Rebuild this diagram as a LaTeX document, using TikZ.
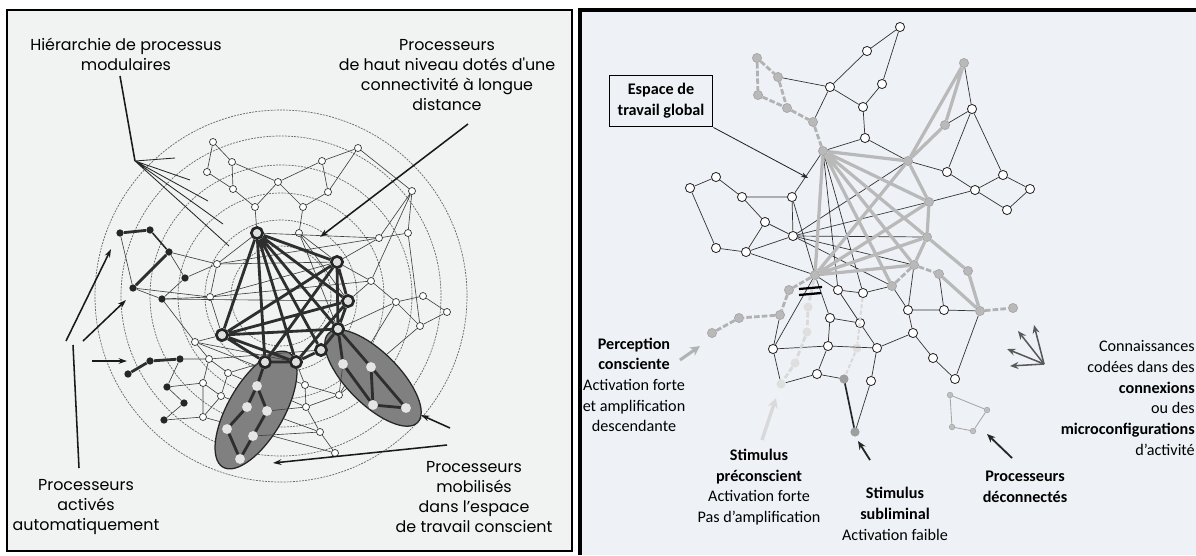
\documentclass[tikz,border=0pt]{standalone}
\usepackage{fontspec}
\newfontfamily\gothfont{Poppins}
\newfontfamily\calfont{Carlito}
\usetikzlibrary{arrows.meta,shapes.geometric}

\definecolor{leftbg}{HTML}{F1F2F2}
\definecolor{rightbg}{HTML}{EEF2F6}

\tikzset{
  pw/.style={circle,draw=black!80,fill=white,line width=0.5pt,inner sep=0pt,minimum size=5pt},
  pb/.style={circle,fill=black!85,inner sep=0pt,minimum size=5.2pt},
  ph/.style={circle,draw=black!85,fill=gray!25,line width=1.9pt,inner sep=0pt,minimum size=8pt},
  pg/.style={circle,fill=gray!20,inner sep=0pt,minimum size=7pt},
  rw/.style={circle,draw=black!85,fill=white,line width=0.6pt,inner sep=0pt,minimum size=6.5pt},
  rg/.style={circle,draw=gray!70,fill=gray!55,line width=0.5pt,inner sep=0pt,minimum size=6.5pt},
  rl/.style={circle,fill=gray!25,inner sep=0pt,minimum size=6.5pt},
  rd/.style={circle,draw=gray!80,fill=gray!75,inner sep=0pt,minimum size=6pt},
  rs/.style={circle,draw=gray!70,fill=gray!50,inner sep=0pt,minimum size=4pt},
  ring/.style={black!60,line width=0.5pt,dash pattern=on 1.4pt off 0.8pt},
  lwire/.style={black!75,line width=0.45pt},
  lbold/.style={black!82,line width=2pt},
  ellfill/.style={draw=black!85,fill=black!50,line width=0.9pt},
  rwire/.style={black!80,line width=0.5pt},
  rgthick/.style={gray!55,line width=2.3pt},
  rdash/.style={gray!60,line width=2pt,dash pattern=on 4pt off 1.5pt},
  rlight/.style={gray!30,line width=2pt,dash pattern=on 4pt off 1.5pt},
  pointer/.style={black!90,line width=1.1pt},
  lbl/.style={font=\gothfont\fontsize{11.3}{14.3}\selectfont,align=center,inner sep=0pt},
  rlbl/.style={font=\calfont\fontsize{11.5}{14.7}\selectfont,align=center,inner sep=0pt}
}

\begin{document}
\begin{tikzpicture}[x=0.025cm,y=-0.025cm]
  \useasboundingbox (0,0) rectangle (1196,555);
  \fill[white] (0,0) rectangle (1196,555);
  \draw[fill=leftbg,line width=0.9pt] (7,10) rectangle (572,551);
  \fill[rightbg] (580,10) rectangle (1196,555);
  \draw[line width=2.2pt] (580,555) -- (580,10) -- (1196,10);

  % left panel: concentric levels
  \draw[ring] (281,296) circle [radius=186];
  \draw[ring] (281,296) circle [radius=160];
  \draw[ring] (281,296) circle [radius=131];
  \draw[ring] (281,296) circle [radius=103];
  \draw[ring] (281,296) circle [radius=76];
  \draw[ring] (281,296) circle [radius=50];

  \node[pw] (w1)  at (213,142) {};
  \node[pw] (w2)  at (232,162) {};
  \node[pw] (w3)  at (207,172) {};
  \node[pw] (w4)  at (233,189) {};
  \node[pw] (w5)  at (278,182) {};
  \node[pw] (w6)  at (322,161) {};
  \node[pw] (w7)  at (358,148) {};
  \node[pw] (w8)  at (328,192) {};
  \node[pw] (w9)  at (255,207) {};
  \node[pw] (w10) at (303,207) {};
  \node[pw] (w11) at (299,233) {};
  \node[pw] (r1)  at (412,191) {};
  \node[pw] (r2)  at (408,233) {};
  \node[pw] (r3)  at (379,238) {};
  \node[pw] (r4)  at (371,281) {};
  \node[pw] (r5)  at (423,296) {};
  \node[pw] (r6)  at (396,302) {};
  \node[pw] (r7)  at (447,312) {};
  \node[pw] (r8)  at (420,326) {};
  \node[pw] (l1)  at (217,264) {};
  \node[pw] (l2)  at (210,297) {};
  \node[pw] (b1)  at (195,342) {};
  \node[pw] (b2)  at (209,359) {};
  \node[pw] (b3)  at (228,373) {};
  \node[pw] (b4)  at (203,383) {};
  \node[pw] (b5)  at (221,396) {};
  \node[pw] (b6)  at (203,417) {};
  \node[pw] (s2)  at (305,385) {};
  \node[pw] (s3)  at (339,395) {};
  \node[pw] (s4)  at (306,407) {};
  \node[pw] (s5)  at (320,432) {};
  \node[pw] (s6)  at (335,453) {};

  \node[pb] (k1)  at (120,233) {};
  \node[pb] (k2)  at (150,230) {};
  \node[pb] (k3)  at (169,252) {};
  \node[pb] (k4)  at (185,278) {};
  \node[pb] (k5)  at (133,288) {};
  \node[pb] (k6)  at (162,299) {};
  \node[pb] (k7)  at (150,361) {};
  \node[pb] (k8)  at (180,359) {};
  \node[pb] (k9)  at (128,374) {};
  \node[pb] (k10) at (167,387) {};
  \node[pb] (k11) at (184,403) {};
  \node[pb] (k12) at (164,420) {};

  \draw[lwire] (w1) -- (w2) (w1) -- (w3) (w2) -- (w4) (w3) -- (w4) (w2) -- (w5)
        (w4) -- (w9) (w5) -- (w9) (w5) -- (w6) (w6) -- (w7) (w6) -- (w8)
        (w7) -- (w8) (w8) -- (w10) (w5) -- (w10) (w10) -- (w11) (w7) -- (r1);
  \draw[lwire] (r1) -- (r2) (r1) -- (r3) (r1) -- (r4) (r2) -- (r3) (r4) -- (r6)
        (r6) -- (r5) (r5) -- (r7) (r7) -- (r8) (r6) -- (r8) (r2) -- (r8);
  \draw[lwire] (l1) -- (l2) (l1) -- (k4) (k3) -- (l1) (k6) -- (l2) (k5) -- (l2)
        (l2) -- (r4) (l1) -- (r3) (k1) -- (k5) (k3) -- (k4) (k4) -- (k6) (k5) -- (k6);
  \draw[lwire] (b1) -- (b2) (b2) -- (b3) (b2) -- (b4) (b3) -- (b5) (b4) -- (b5)
        (b4) -- (b6) (b5) -- (b6) (k8) -- (b2) (k8) -- (k10) (k10) -- (k11)
        (k11) -- (k12) (k12) -- (b6) (k10) -- (b4) (b1) -- (s2) (b3) -- (s4)
        (b5) -- (s5) (b6) -- (s6) (k6) -- (b1);
  \draw[lwire] (s2) -- (s3) (s2) -- (s4) (s3) -- (s4) (s4) -- (s5) (s5) -- (s6)
        (s3) -- (r8) (s3) -- (r6);

  \draw[ellfill,rotate around={-30:(256,410)}] (256,410) ellipse [x radius=28, y radius=66];
  \draw[ellfill,rotate around={-45:(373,378)}] (373,378) ellipse [x radius=63, y radius=26];

  \node[pg] (e1) at (257,386) {};
  \node[pg] (e2) at (247,407) {};
  \node[pg] (e3) at (267,411) {};
  \node[pg] (e4) at (227,429) {};
  \node[pg] (e5) at (253,436) {};
  \node[pg] (e6) at (240,459) {};
  \node[pg] (f1) at (343,364) {};
  \node[pg] (f2) at (371,367) {};
  \node[pg] (f3) at (373,405) {};
  \node[pg] (f4) at (406,408) {};

  \node[ph] (A) at (257,233) {};
  \node[ph] (B) at (337,262) {};
  \node[ph] (C) at (348,301) {};
  \node[ph] (D) at (222,335) {};
  \node[ph] (E) at (338,329) {};
  \node[ph] (F) at (321,350) {};
  \node[ph] (G) at (296,362) {};
  \node[ph] (H) at (265,362) {};

  \draw[lwire] (w9) -- (A) (w11) -- (B) (w11) -- (C) (w11) -- (E) (r3) -- (B)
        (r3) -- (A) (r4) -- (B) (r4) -- (C) (r6) -- (E) (l1) -- (A) (l2) -- (D)
        (l1) -- (B) (k6) -- (C) (l2) -- (B) (D) -- (b1) (b3) -- (H) (s2) -- (G)
        (s3) -- (f1) (s4) -- (e3) (s5) -- (e5) (b1) -- (G) (b2) -- (F);
  \draw[lbold] (A) -- (B) (A) -- (C) (A) -- (D) (A) -- (E) (A) -- (F) (A) -- (G)
        (A) -- (H) (B) -- (C) (B) -- (D) (B) -- (E) (B) -- (H) (C) -- (D)
        (C) -- (E) (C) -- (G) (D) -- (E) (D) -- (G) (D) -- (H) (E) -- (F)
        (F) -- (G) (G) -- (H);
  \draw[lbold] (H) -- (e1) (e1) -- (e2) (e1) -- (e3) (e2) -- (e4) (e3) -- (e5)
        (e4) -- (e6) (e5) -- (e6) (E) -- (f1) (E) -- (f2) (f1) -- (f3) (f2) -- (f3)
        (f2) -- (f4) (f3) -- (f4);
  \draw[lbold] (k1) -- (k2) (k3) -- (k5) (k7) -- (k8) (k9) -- (k7);
  \draw[black!85,line width=1.1pt] (k2) -- (k3);
  \foreach \n in {A,B,C,D,E,F,G,H,e1,e2,e3,e4,e5,e6,f1,f2,f3,f4,k1,k2,k3,k5,k7,k8,k9}
    \node[at=(\n)] {};

  % left panel: labels
  \node[lbl] (hier)  at (126,54)  {Hiérarchie de processus\\modulaires};
  \node[lbl] (hlev)  at (447,75)  {Processeurs\\de haut niveau dotés d'une\\connectivité à longue\\distance};
  \node[lbl] (activ) at (86,507)  {Processeurs\\activés\\automatiquement};
  \node[lbl] (mobil) at (474,497) {Processeurs\\mobilisés\\dans l’espace\\de travail conscient};

  \coordinate (hierTop) at (120,76);
  \coordinate (hierFan) at (135,161);
  \coordinate (hf1) at (175,158);
  \coordinate (hf2) at (190,180);
  \coordinate (hf3) at (208,201);
  \coordinate (hf4) at (223,224);
  \coordinate (hf5) at (229,246);
  \draw[pointer] (hierTop) -- (hierFan);
  \draw[black!85,line width=0.6pt] (hierFan) -- (hf1) (hierFan) -- (hf2) (hierFan) -- (hf3)
        (hierFan) -- (hf4) (hierFan) -- (hf5);

  \coordinate (hlevStart) at (468,124);
  \coordinate (hlevEnd)   at (320,237);
  \draw[pointer,-{Stealth[length=6pt,width=4pt]}] (hlevStart) -- (hlevEnd);

  \coordinate (activTop) at (79,468);
  \coordinate (activFork) at (73,345);
  \coordinate (actA) at (66,341);
  \coordinate (actB) at (83,341);
  \coordinate (actC) at (92,361);
  \coordinate (actAend) at (111,249);
  \coordinate (actBend) at (126,300);
  \coordinate (actCend) at (127,361);
  \draw[pointer] (activTop) -- (activFork);
  \draw[pointer,-{Stealth[length=6pt,width=4pt]}] (actA) -- (actAend);
  \draw[pointer,-{Stealth[length=6pt,width=4pt]}] (actB) -- (actBend);
  \draw[pointer,-{Stealth[length=6pt,width=4pt]}] (actC) -- (actCend);

  \coordinate (mobA) at (450,428);
  \coordinate (mobAend) at (421,415);
  \coordinate (mobB) at (447,445);
  \coordinate (mobBend) at (273,463);
  \draw[pointer,-{Stealth[length=6pt,width=4pt]}] (mobA) -- (mobAend);
  \draw[pointer,-{Stealth[length=6pt,width=4pt]}] (mobB) -- (mobBend);

  % right panel: network
  \node[rw] (T1) at (900,27)  {};
  \node[rw] (T2) at (867,51)  {};
  \node[rw] (T3) at (882,84)  {};
  \node[rw] (T4) at (830,87)  {};
  \node[rw] (T5) at (863,107) {};
  \node[rw] (T6) at (865,138) {};
  \node[rw] (R1) at (1003,175) {};
  \node[rw] (R2) at (1030,189) {};
  \node[rw] (R3) at (1007,210) {};
  \node[rw] (R4) at (975,190) {};
  \node[rw] (R5) at (947,172) {};
  \node[rw] (R6) at (972,109) {};
  \node[rw] (L1) at (690,188) {};
  \node[rw] (L2) at (716,177) {};
  \node[rw] (L3) at (742,197) {};
  \node[rw] (L4) at (792,197) {};
  \node[rw] (L5) at (765,222) {};
  \node[rw] (L6) at (716,248) {};
  \node[rw] (L7) at (746,252) {};
  \node[rw] (L8) at (793,236) {};
  \node[rw] (W1)  at (838,290) {};
  \node[rw] (W2)  at (863,293) {};
  \node[rw] (W3)  at (908,310) {};
  \node[rw] (W4)  at (944,310) {};
  \node[rw] (W5)  at (830,318) {};
  \node[rw] (W6)  at (860,323) {};
  \node[rw] (W7)  at (913,333) {};
  \node[rw] (W8)  at (933,358) {};
  \node[rw] (W9)  at (955,379) {};
  \node[rw] (W10) at (773,349) {};
  \node[rw] (W11) at (828,346) {};
  \node[rw] (W12) at (877,348) {};
  \node[rw] (W13) at (817,374) {};
  \node[rw] (W14) at (871,381) {};

  \node[rg] (Q1) at (757,58)  {};
  \node[rg] (Q2) at (778,77)  {};
  \node[rg] (Q3) at (758,95)  {};
  \node[rg] (Q4) at (787,108) {};
  \node[rg] (Q5) at (813,122) {};
  \node[rg] (G1)  at (823,151) {};
  \node[rg] (G2)  at (908,161) {};
  \node[rg] (G3)  at (929,202) {};
  \node[rg] (G4)  at (927,237) {};
  \node[rg] (G5)  at (815,275) {};
  \node[rg] (G6)  at (914,265) {};
  \node[rg] (G7)  at (892,286) {};
  \node[rg] (G8)  at (939,274) {};
  \node[rg] (G9)  at (968,271) {};
  \node[rg] (G10) at (980,311) {};
  \node[rg] (G11) at (1013,308) {};
  \node[rg] (G12) at (964,63)  {};
  \node[rg] (G13) at (945,125) {};
  \node[rg] (P1) at (789,290) {};
  \node[rg] (P2) at (780,315) {};
  \node[rg] (P3) at (739,318) {};
  \node[rg] (P4) at (712,333) {};
  \node[rl] (S1) at (808,307) {};
  \node[rl] (S2) at (807,332) {};
  \node[rl] (S3) at (795,363) {};
  \node[rl] (S4) at (781,384) {};
  \node[rl] (S5) at (857,348) {};
  \node[rd] (U1) at (844,379) {};
  \node[rd] (U2) at (855,432) {};
  \node[rs] (X1) at (950,395) {};
  \node[rs] (X2) at (987,410) {};
  \node[rs] (X3) at (952,427) {};
  \node[rs] (X4) at (973,431) {};

  \draw[rwire] (T1) -- (T2) (T1) -- (T3) (T2) -- (T4) (T3) -- (T5) (T4) -- (T5)
        (T5) -- (T6) (T4) -- (Q5) (Q2) -- (T4) (T6) -- (G1) (T6) -- (G2);
  \draw[rwire] (G12) -- (R6) (G13) -- (R6) (R6) -- (R5) (R6) -- (R1) (R1) -- (R2)
        (R2) -- (R3) (R3) -- (R4) (R4) -- (R5) (R4) -- (R1) (R5) -- (G2) (R4) -- (G3);
  \draw[rwire] (L1) -- (L2) (L2) -- (L3) (L1) -- (L6) (L3) -- (L5) (L3) -- (L4)
        (L4) -- (L8) (L5) -- (L8) (L5) -- (L7) (L6) -- (L7) (L7) -- (L8)
        (L4) -- (G1) (L8) -- (G3) (L8) -- (G6) (L8) -- (G4) (L7) -- (G5)
        (L4) -- (G5) (L8) -- (G7) (G1) -- (W1) (G1) -- (W2) (L8) -- (G2);
  \draw[rwire] (G5) -- (W1) (G5) -- (W5) (W1) -- (W2) (W2) -- (G7) (W1) -- (W6)
        (W3) -- (W4) (G7) -- (W3) (G6) -- (W3) (W3) -- (W7) (W7) -- (W8)
        (W8) -- (W9) (W9) -- (G10) (W4) -- (G8) (W4) -- (G10) (W5) -- (W6)
        (W5) -- (W11) (W6) -- (W12) (W11) -- (W12) (W10) -- (W11) (W10) -- (S4)
        (P2) -- (W10) (W11) -- (W13) (W13) -- (S4) (W12) -- (W14) (W12) -- (W7)
        (W14) -- (U2) (U1) -- (W13) (G5) -- (W10);
  \draw[rgthick] (G1) -- (G2) (G1) -- (G3) (G1) -- (G4) (G1) -- (G6) (G1) -- (G7)
        (G1) -- (G5) (G5) -- (G2) (G5) -- (G3) (G5) -- (G4) (G2) -- (G3)
        (G3) -- (G4) (G4) -- (G6) (G2) -- (G12) (G12) -- (G13) (G13) -- (G2)
        (G4) -- (G9) (G8) -- (G10) (G9) -- (G10) (G5) -- (G6);
  \draw[rdash] (Q1) -- (Q2) (Q1) -- (Q3) (Q2) -- (Q4) (Q3) -- (Q4) (Q4) -- (Q5)
        (Q5) -- (G1) (G5) -- (P1) (P1) -- (P2) (P2) -- (P3) (P3) -- (P4)
        (G6) -- (G8) (G10) -- (G11) (G7) -- (G6);
  \draw[rlight] (G5) -- (S1) (S1) -- (S2) (S2) -- (S3) (S3) -- (S4);
  \draw[gray!30,line width=1.4pt,dash pattern=on 3pt off 1.5pt] (W2) -- (S5) (S5) -- (U1);
  \draw[black!85,line width=1.2pt] (U2) -- (U1);
  \draw[gray!70,line width=0.6pt] (X1) -- (X2) (X2) -- (X4) (X4) -- (X3) (X3) -- (X1);
  \foreach \n in {T1,T2,T3,T4,T5,T6,R1,R2,R3,R4,R5,R6,L1,L2,L3,L4,L5,L6,L7,L8,
                  W1,W2,W3,W4,W5,W6,W7,W8,W9,W10,W11,W12,W13,W14,Q1,Q2,Q3,Q4,Q5,
                  G1,G2,G3,G4,G5,G6,G7,G8,G9,G10,G11,G12,G13,P1,P2,P3,P4,
                  S1,S2,S3,S4,S5,U1,U2,X1,X2,X3,X4}
    \node[at=(\n)] {};

  % blocked amplification mark
  \draw[black,line width=1.6pt] (799,289) -- (822,287) (799,295) -- (821,293);

  % right panel: labels and pointers
  \node[rlbl,draw=black,line width=0.9pt,inner xsep=6pt,inner ysep=6pt,fill=rightbg]
       (gws) at (661,101) {\textbf{Espace de}\\\textbf{travail global}};
  \coordinate (gwsEnd) at (808,178);
  \draw[black!85,line width=0.6pt,-{Stealth[length=5pt,width=3.5pt]}] (gws.south east) -- (gwsEnd);

  \node[rlbl] (perc)   at (634,385) {\textbf{Perception}\\\textbf{consciente}\\Activation forte\\et amplification\\descendante};
  \node[rlbl] (precon) at (759,487) {\textbf{Stimulus}\\\textbf{préconscient}\\Activation forte\\Pas d’amplification};
  \node[rlbl] (sublim) at (895,514) {\textbf{Stimulus}\\\textbf{subliminal}\\Activation faible};
  \node[rlbl] (decon)  at (1025,487) {\textbf{Processeurs}\\\textbf{déconnectés}};
  \node[rlbl,align=right,anchor=east] (know) at (1195,398)
       {Connaissances\\codées dans des\\\textbf{connexions}\\ou des\\\textbf{microconfigurations}\\d’activité};

  \coordinate (percA) at (680,360);
  \coordinate (percB) at (700,346);
  \draw[gray!60,line width=2.2pt,-{Stealth[length=7pt,width=7pt]}] (percA) -- (percB);
  \coordinate (preA) at (762,440);
  \coordinate (preB) at (776,398);
  \draw[gray!30,line width=2.4pt,-{Stealth[length=7pt,width=7pt]}] (preA) -- (preB);
  \coordinate (subA) at (870,460);
  \coordinate (subB) at (858,441);
  \draw[black!85,line width=1.3pt,-{Stealth[length=6pt,width=5pt]}] (subA) -- (subB);
  \coordinate (decA) at (1012,458);
  \coordinate (decB) at (987,434);
  \draw[black!85,line width=1.3pt,-{Stealth[length=6pt,width=5pt]}] (decA) -- (decB);

  \coordinate (kfan) at (1044,364);
  \coordinate (kf1) at (1034,325);
  \coordinate (kf2) at (1018,331);
  \coordinate (kf3) at (1007,349);
  \coordinate (kf4) at (1010,366);
  \draw[black!65,line width=1.1pt,-{Stealth[length=6pt,width=5pt]}] (kfan) -- (kf1);
  \draw[black!65,line width=1.1pt,-{Stealth[length=6pt,width=5pt]}] (kfan) -- (kf2);
  \draw[black!65,line width=1.1pt,-{Stealth[length=6pt,width=5pt]}] (kfan) -- (kf3);
  \draw[black!65,line width=1.1pt,-{Stealth[length=6pt,width=5pt]}] (kfan) -- (kf4);
\end{tikzpicture}
\end{document}
